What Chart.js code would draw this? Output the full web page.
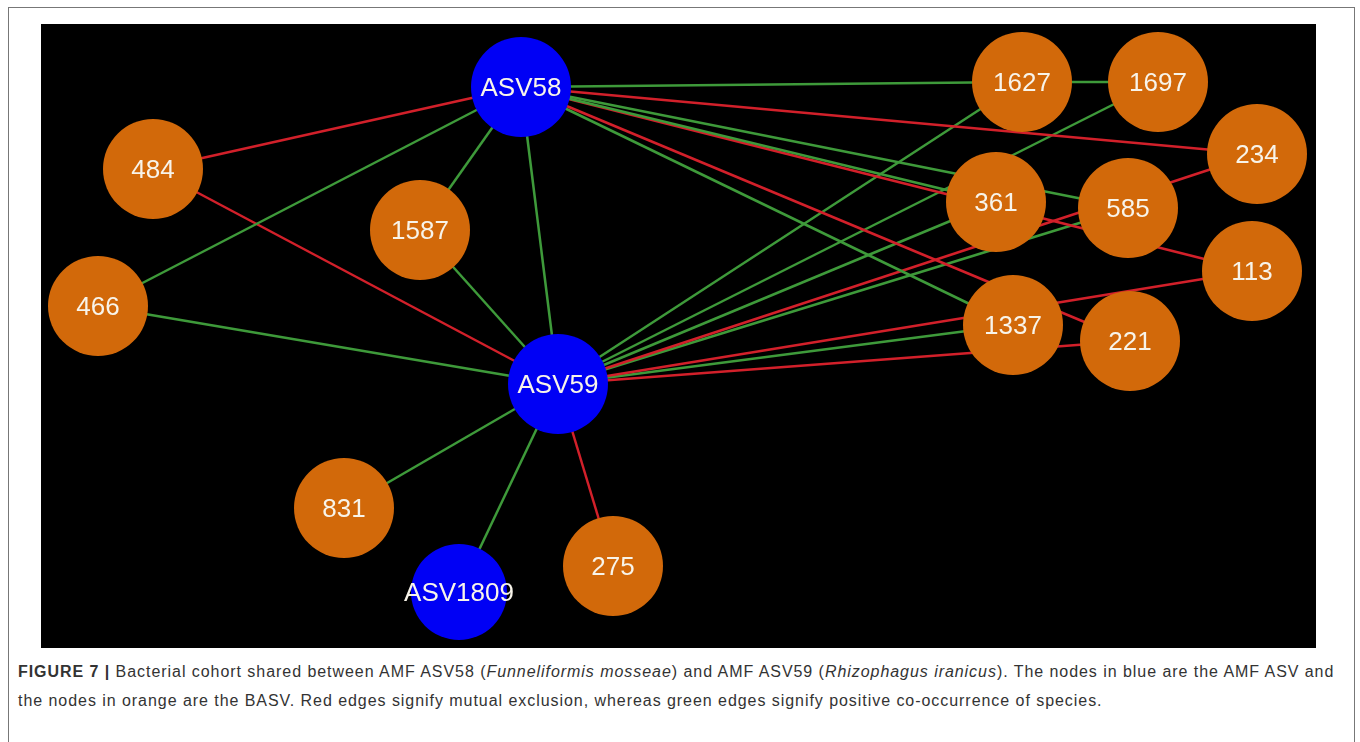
<!DOCTYPE html>
<html>
<head>
<meta charset="utf-8">
<script src="https://cdn.jsdelivr.net/npm/chart.js@4/dist/chart.umd.min.js"></script>
<style>
  body { margin: 0; background: #fff; width: 1360px; height: 742px; overflow: hidden; position: relative; font-family: "Liberation Sans", Arial, sans-serif; }
  #frame { position: absolute; left: 8px; top: 7px; width: 1345px; height: 760px; border: 1px solid #777; }
  #wrap { position: absolute; left: 41px; top: 24px; width: 1275px; height: 624px; background: #000; }
  #caption { position: absolute; left: 18px; top: 657px; width: 1340px; font-size: 16px; letter-spacing: 0.95px; line-height: 29px; color: #333; white-space: nowrap; }
</style>
</head>
<body>
<div id="frame"></div>
<div id="wrap"><canvas id="net" width="1275" height="624"></canvas></div>
<div id="caption"><b>FIGURE 7 |</b> Bacterial cohort shared between AMF ASV58 (<i>Funneliformis mosseae</i>) and AMF ASV59 (<i>Rhizophagus iranicus</i>). The nodes in blue are the AMF ASV and<br>the nodes in orange are the BASV. Red edges signify mutual exclusion, whereas green edges signify positive co-occurrence of species.</div>
<script>
// nodes, positions
const nodeNames = ["ASV58", "ASV59", "ASV1809", "484", "466", "1587", "831", "275", "1627", "1697", "234", "361", "585", "113", "1337", "221"];
const nodeX = [521, 558, 459, 153, 98, 420, 344, 613, 1022, 1158, 1257, 996, 1128, 1252, 1013, 1130];
const nodeY = [87, 384, 592, 169, 306, 230, 508, 566, 82, 82, 154, 202, 208, 271, 325, 341];
const nodeKind = ["amf", "amf", "amf", "b", "b", "b", "b", "b", "b", "b", "b", "b", "b", "b", "b", "b"];

// edges: +1 co-occurrence (green), -1 exclusion (red)
const edgeFrom = ["ASV58", "ASV58", "ASV58", "ASV58", "ASV58", "ASV58", "ASV58", "ASV58", "ASV58", "ASV58", "ASV58",
  "ASV59", "ASV59", "ASV59", "ASV59", "ASV59", "ASV59", "ASV59", "ASV59", "ASV59", "ASV59", "ASV59", "ASV59", "ASV59", "ASV59",
  "1627"];
const edgeTo = ["484", "466", "1587", "ASV59", "1627", "234", "361", "585", "113", "221", "1337",
  "484", "466", "1587", "831", "ASV1809", "275", "1627", "1697", "361", "234", "585", "113", "1337", "221",
  "1697"];
const edgeSign = [-1, 1, 1, 1, 1, -1, 1, 1, -1, -1, 1,
  -1, 1, 1, 1, 1, -1, 1, 1, 1, -1, 1, -1, 1, -1,
  1];

const GREEN = "#3e9a3a";
const RED = "#d2202a";
const BLUE = "#0000f5";
const ORANGE = "#d2690a";

function pos(name) {
  const i = nodeNames.indexOf(name);
  return { x: nodeX[i], y: nodeY[i] };
}

const datasets = edgeFrom.map((f, i) => ({
  type: "line",
  data: [pos(f), pos(edgeTo[i])],
  borderColor: edgeSign[i] > 0 ? GREEN : RED,
  borderWidth: 2.5,
  pointRadius: 0,
  fill: false,
  clip: false,
  order: 2,
}));

datasets.push({
  type: "scatter",
  data: nodeNames.map((n, i) => ({ x: nodeX[i], y: nodeY[i] })),
  pointRadius: nodeNames.map((n) => (n === "ASV1809" ? 48 : 50)),
  pointHoverRadius: 50,
  pointBackgroundColor: nodeKind.map((k) => (k === "amf" ? BLUE : ORANGE)),
  pointBorderColor: nodeKind.map((k) => (k === "amf" ? BLUE : ORANGE)),
  pointBorderWidth: 0,
  clip: false,
  order: 1,
});

const nodeLabels = {
  id: "nodeLabels",
  afterDatasetsDraw(chart) {
    const ctx = chart.ctx;
    const meta = chart.getDatasetMeta(chart.data.datasets.length - 1);
    ctx.save();
    ctx.fillStyle = "#f8f4ea";
    ctx.font = "26px 'Liberation Sans', Arial, sans-serif";
    ctx.textAlign = "center";
    ctx.textBaseline = "middle";
    meta.data.forEach((pt, i) => {
      ctx.fillText(nodeNames[i], pt.x, pt.y + 2);
    });
    ctx.restore();
  },
};

new Chart(document.getElementById("net").getContext("2d"), {
  data: { datasets },
  options: {
    responsive: false,
    animation: false,
    devicePixelRatio: 1,
    layout: { padding: 0, autoPadding: false },
    plugins: { legend: { display: false }, tooltip: { enabled: false } },
    scales: {
      x: { type: "linear", min: 41, max: 1316, display: false },
      y: { type: "linear", min: 24, max: 648, reverse: true, display: false },
    },
  },
  plugins: [nodeLabels],
});
</script>
</body>
</html>
